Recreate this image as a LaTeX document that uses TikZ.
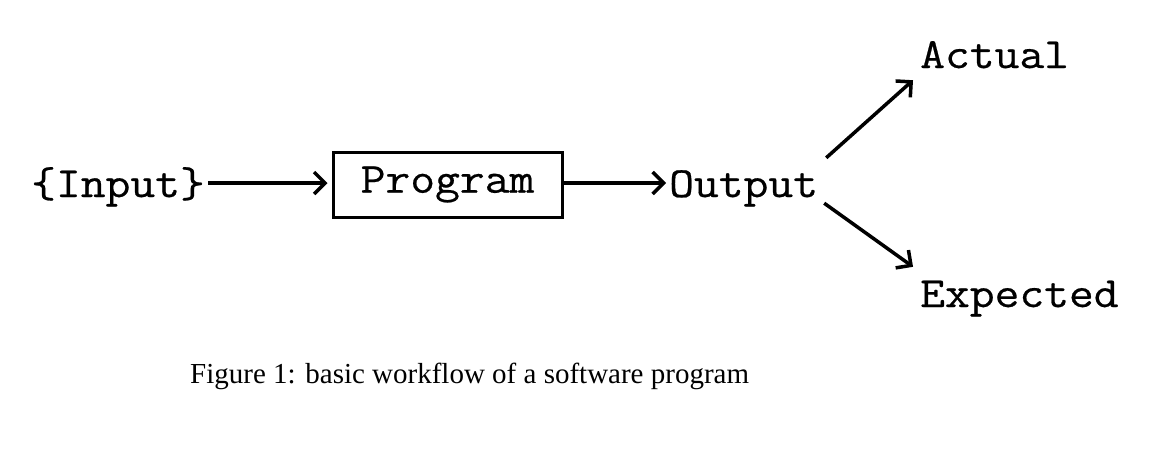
\documentclass[tikz,border=0pt]{standalone}
\usepackage{fontspec}
\setmainfont{Liberation Serif}
\newfontfamily\codefont{Latin Modern Mono}[FakeBold=0.5,FakeStretch=1.12]
\usetikzlibrary{arrows.meta}
\begin{document}
\begin{tikzpicture}[x=1pt,y=-1pt,
  lbl/.style={anchor=base west,inner sep=0pt,text height=34pt,text depth=6pt,font=\codefont\fontsize{43}{50}\selectfont},
  arr/.style={line width=3.5pt,-{Straight Barb[length=11pt,width=22pt,line width=3.5pt]}}]
\useasboundingbox[fill=white] (0,0) rectangle (1156,451);
\node[lbl] (input) at (31,197) {\{Input\}};
\node[draw,line width=3pt,minimum width=229pt,minimum height=65pt,inner sep=0pt,
  font=\codefont\fontsize{43}{50}\selectfont] (prog) at (447.5,184.5) {Program};
\node[lbl] (output) at (669,197) {Output};
\node[lbl] (actual) at (920,68) {Actual};
\node[lbl] (expected) at (920,307) {Expected};
\node[anchor=base west,inner sep=0pt,font=\fontsize{29}{35}\selectfont] (cap) at (190,383) {Figure 1: basic workflow of a software program};
\draw[arr,shorten <=3pt,shorten >=4pt] (input.east) -- (input.east -| prog.west);
\draw[arr,shorten >=3pt] (prog.east |- output.west) -- (output.west);
\draw[arr] ([shift={(8,-5)}]output.north east) -- ([shift={(-7,6)}]actual.south west);
\draw[arr] ([shift={(6,0)}]output.south east) -- ([shift={(-7,-6)}]expected.north west);
\end{tikzpicture}
\end{document}
